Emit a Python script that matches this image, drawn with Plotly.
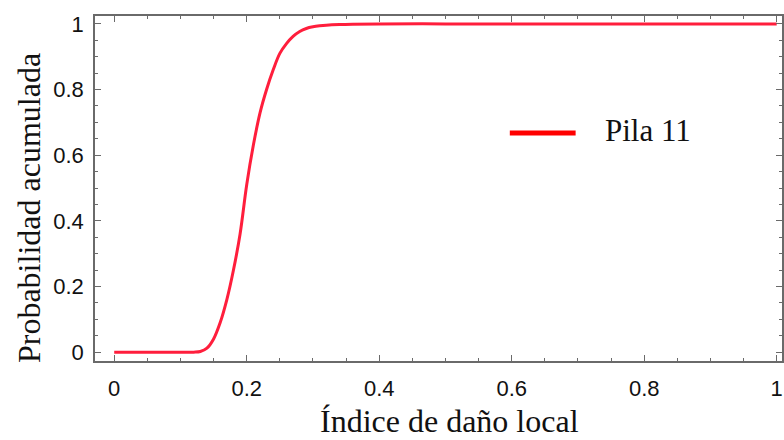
import plotly.graph_objects as go

# Cumulative probability curve for pile 11 versus local damage index
damage_index = [0.0, 0.05, 0.10, 0.12, 0.13, 0.14, 0.15, 0.16, 0.17, 0.18, 0.19,
                0.20, 0.21, 0.22, 0.23, 0.24, 0.25, 0.26, 0.27, 0.28, 0.29,
                0.30, 0.31, 0.32, 0.34, 0.36, 0.40, 0.50, 0.60, 0.70, 0.80, 0.90, 1.00]
cum_prob = [0.0, 0.0, 0.0, 0.0, 0.002, 0.012, 0.04, 0.09, 0.16, 0.25, 0.36,
            0.51, 0.63, 0.728, 0.80, 0.86, 0.91, 0.94, 0.962, 0.977, 0.986,
            0.991, 0.994, 0.996, 0.998, 0.999, 1.0, 1.0, 1.0, 1.0, 1.0, 1.0, 1.0]
series_name = "Pila 11"
x_title = "Índice de daño local"
y_title = "Probabilidad acumulada"
tick_vals = [0, 0.2, 0.4, 0.6, 0.8, 1.0]
tick_text = ["0", "0.2", "0.4", "0.6", "0.8", "1"]

line_color = "#ff1e3c"
axis_color = "#6a6a6a"
serif = "Liberation Serif, Times New Roman, serif"
sans = "Liberation Sans, Arial, sans-serif"

fig = go.Figure()
fig.add_trace(go.Scatter(
    x=damage_index, y=cum_prob, mode="lines", name=series_name,
    line=dict(color=line_color, width=3, shape="spline", smoothing=1.0),
    showlegend=False,
))

axis_common = dict(
    showline=True, linecolor=axis_color, linewidth=1.5, mirror="ticks",
    ticks="inside", ticklen=6, tickwidth=1, tickcolor=axis_color,
    showgrid=False, zeroline=False,
    tickfont=dict(family=sans, size=22, color="#111"),
    tickvals=tick_vals, ticktext=tick_text,
    minor=dict(ticks="inside", ticklen=3, tickwidth=1, tickcolor=axis_color, dtick=0.05, showgrid=False),
)

fig.update_xaxes(range=[-0.029, 1.008], ticklabelstandoff=7, **axis_common)
fig.update_yaxes(range=[-0.027, 1.024], ticklabelstandoff=5, **axis_common)

# Axis titles
fig.add_annotation(text=x_title, xref="paper", yref="paper", x=0.5167, y=-0.174,
                   showarrow=False, font=dict(family=serif, size=32, color="#111"),
                   xanchor="center", yanchor="middle")
fig.add_annotation(text=y_title, xref="paper", yref="paper", x=-0.096, y=0.4435,
                   showarrow=False, textangle=-90, font=dict(family=serif, size=32, color="#111"),
                   xanchor="center", yanchor="middle")

# Legend entry: swatch line and label
fig.add_shape(type="line", xref="paper", yref="paper", x0=0.6038, x1=0.6996, y0=0.661, y1=0.661,
              line=dict(color="#ff0000", width=5))
fig.add_annotation(text=series_name, xref="paper", yref="paper", x=0.740, y=0.667,
                   showarrow=False, font=dict(family=serif, size=31, color="#111"),
                   xanchor="left", yanchor="middle")

fig.update_layout(
    width=784, height=440,
    margin=dict(l=95, r=0, t=16, b=79),
    paper_bgcolor="white", plot_bgcolor="white",
)

fig.write_html("out.html")
